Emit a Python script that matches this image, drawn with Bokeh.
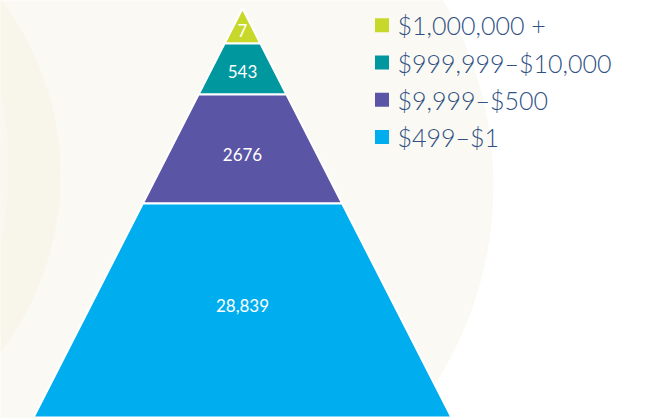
from bokeh.plotting import figure
from bokeh.models import Range1d, ColumnDataSource
from bokeh.core.properties import value
from bokeh.embed import file_html
from bokeh.resources import INLINE

# ---- data ----
categories = ["$1,000,000 +", "$999,999\u2013$10,000", "$9,999\u2013$500", "$499\u2013$1"]
counts = [7, 543, 2676, 28839]
count_labels = ["7", "543", "2676", "28,839"]
colors = ["#c8d82b", "#00979f", "#5b55a6", "#00aeef"]
# share of pyramid height given to each tier (top to bottom)
tier_heights = [0.0856, 0.1247, 0.2665, 0.5232]
label_pos = [0.63, 0.55, 0.55, 0.477]

# ---- layout (pixel space) ----
W, H = 650, 418
apex_x, apex_y = 242.0, 8.0
base_y = 417.0
base_half = 209.0
total_h = base_y - apex_y

p = figure(width=W, height=H, x_range=Range1d(0, W), y_range=Range1d(H, 0),
           output_backend="svg", toolbar_location=None, min_border=0)
p.axis.visible = False
p.grid.visible = False
p.outline_line_color = None
p.background_fill_color = "#ffffff"
p.border_fill_color = "#ffffff"

# background circles
p.circle(x=[126], y=[185], radius=367, fill_color="#fbf9f4", line_color=None)
p.circle(x=[-230], y=[175], radius=290, fill_color="#f8f5eb", line_color=None)
p.circle(x=[-396], y=[167], radius=404, fill_color="#faf7f0", line_color=None)

xs, ys, lx, ly = [], [], [], []
acc = 0.0
for h, lp in zip(tier_heights, label_pos):
    t0, t1 = acc, acc + h
    y0, y1 = apex_y + t0 * total_h, apex_y + t1 * total_h
    w0, w1 = base_half * t0, base_half * t1
    xs.append([apex_x - w0, apex_x + w0, apex_x + w1, apex_x - w1])
    ys.append([y0, y0, y1, y1])
    lx.append(apex_x)
    ly.append(y0 + lp * (y1 - y0))
    acc = t1

src = ColumnDataSource(dict(xs=xs, ys=ys, color=colors, lx=lx, ly=ly, lab=count_labels,
                            cat=categories, n=counts))
p.patches("xs", "ys", source=src, fill_color="color", line_color="#ffffff", line_width=2)
p.text("lx", "ly", text="lab", source=src, text_color="#ffffff", text_align="center",
       text_baseline="middle", text_font=value("Lato"), text_font_size="17px")

# legend
leg_y = [24.8 + 37.2 * i for i in range(len(categories))]
leg_src = ColumnDataSource(dict(y=leg_y, x=[381.5] * len(categories), tx=[397] * len(categories),
                                color=colors, cat=categories))
p.scatter("x", "y", source=leg_src, marker="square", size=14, fill_color="color", line_color=None)
p.text("tx", "y", text="cat", source=leg_src, text_color="#2f5183", text_align="left",
       text_baseline="middle", text_font=value("Lato Light"), text_font_size="25px")

open("out.html", "w").write(file_html(p, INLINE))
